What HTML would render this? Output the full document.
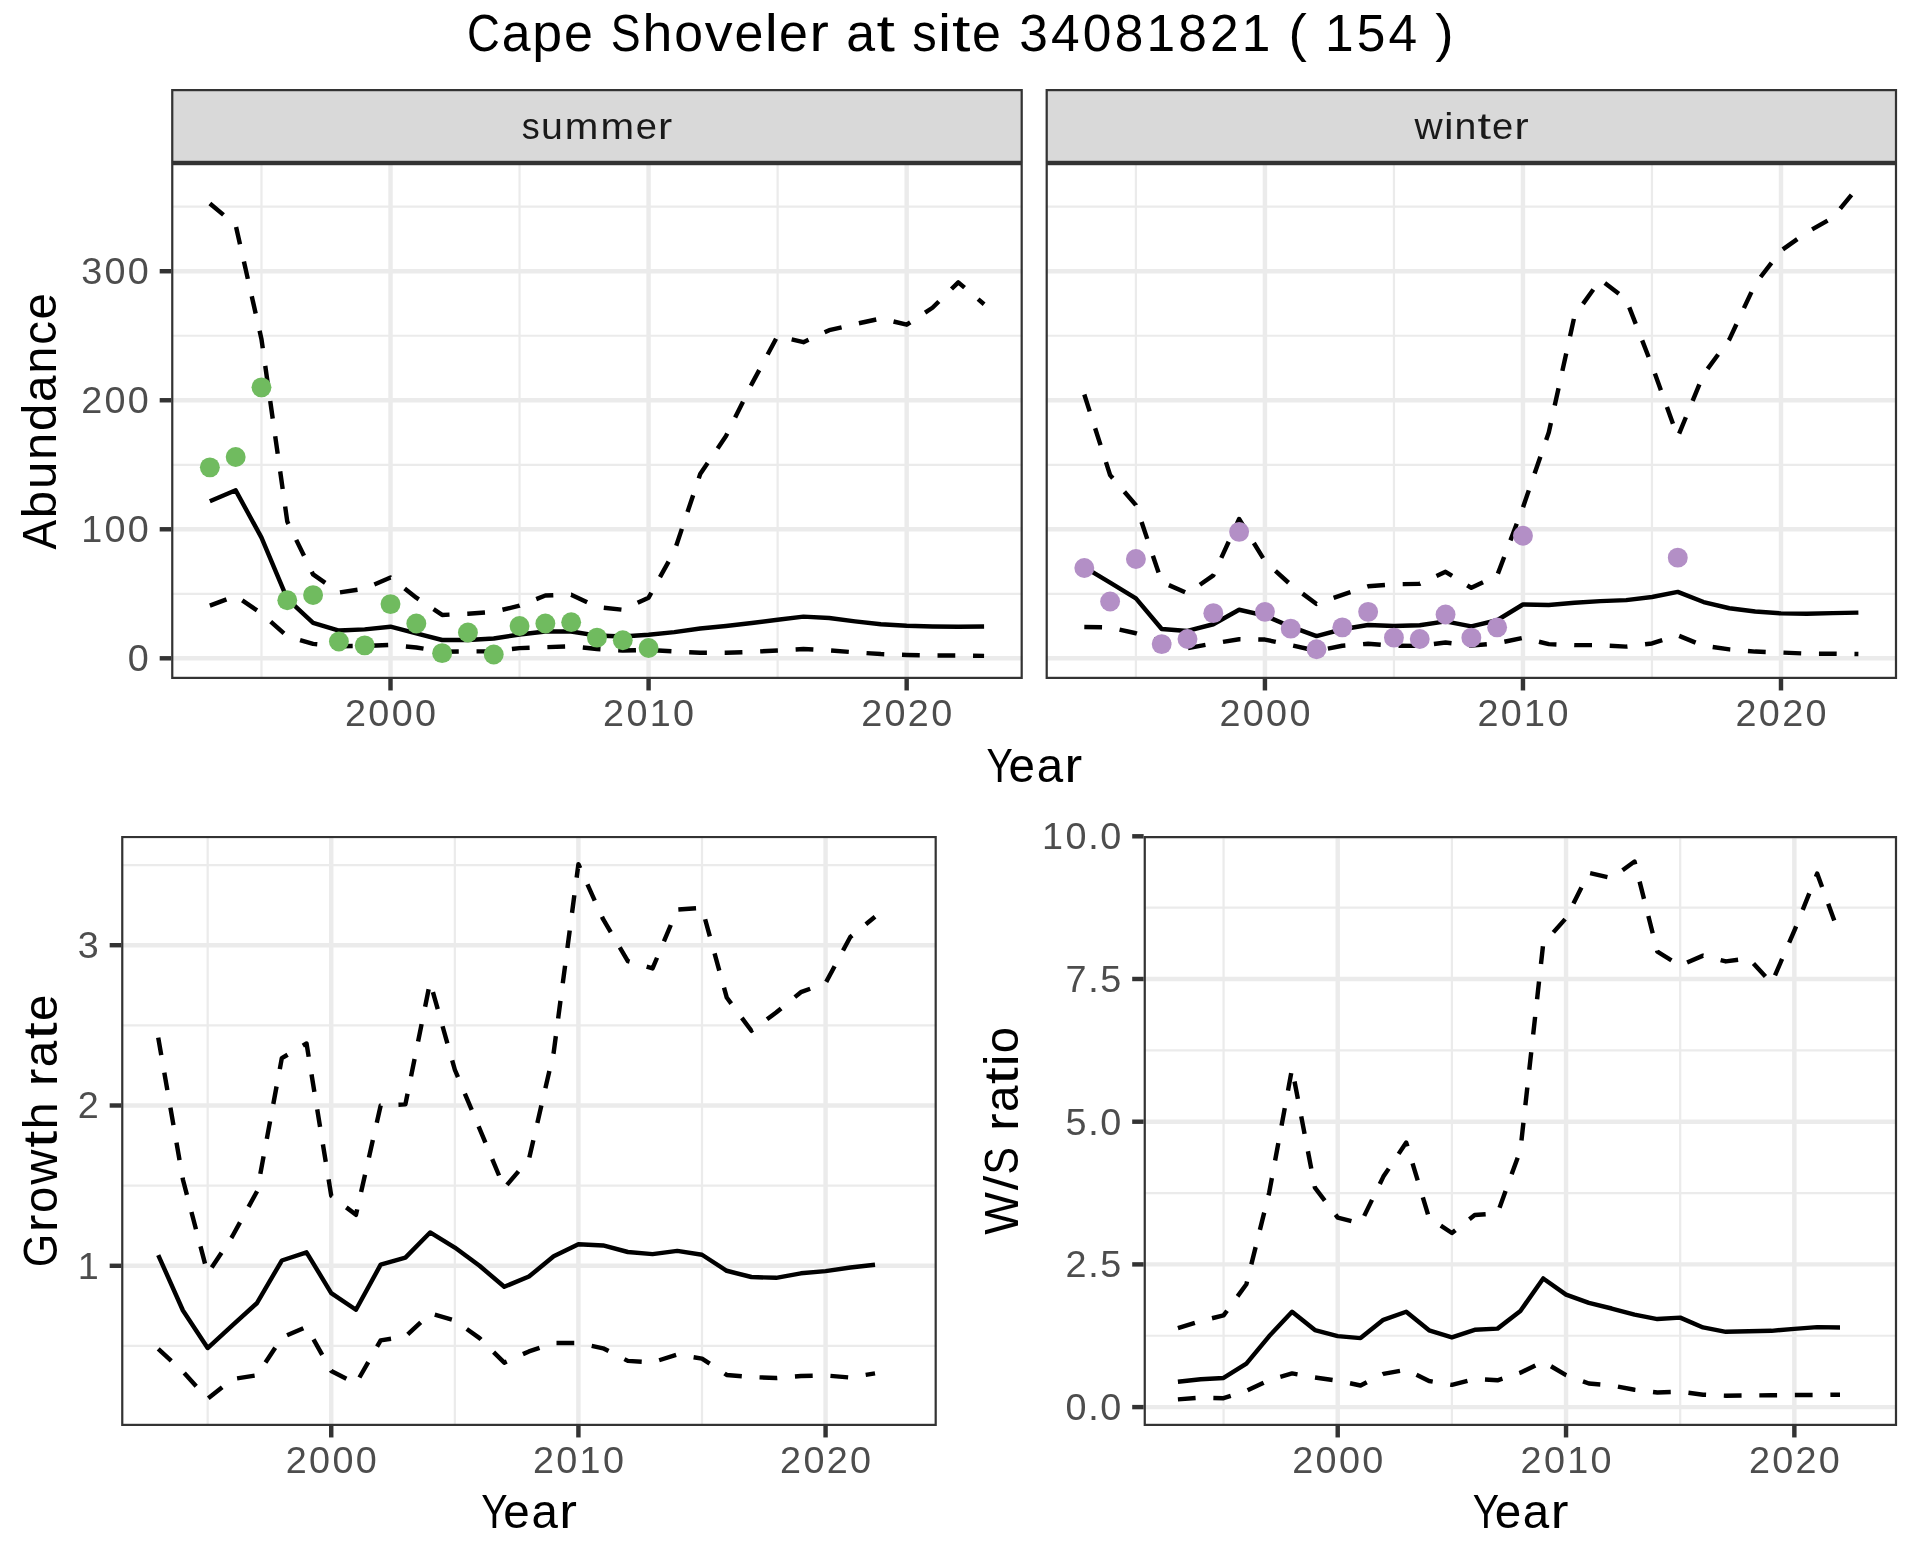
<!DOCTYPE html>
<html><head><meta charset="utf-8"><title>Cape Shoveler</title>
<style>html,body{margin:0;padding:0;background:#fff;}svg{display:block;will-change:transform;}</style></head><body>
<svg width="1920" height="1560" viewBox="0 0 1920 1560">
<rect x="0" y="0" width="1920" height="1560" fill="#FFFFFF"/>
<g transform="translate(960.00 50.80)" font-size="51.75" font-family="Liberation Sans, sans-serif" fill="#000000">
<text x="-493.10" y="0" textLength="32.81" lengthAdjust="spacingAndGlyphs">C</text>
<text x="-458.33" y="0" textLength="28.81" lengthAdjust="spacingAndGlyphs">a</text>
<text x="-427.65" y="0" textLength="29.84" lengthAdjust="spacingAndGlyphs">p</text>
<text x="-395.93" y="0" textLength="28.90" lengthAdjust="spacingAndGlyphs">e</text>
<text x="-349.25" y="0" textLength="29.84" lengthAdjust="spacingAndGlyphs">S</text>
<text x="-317.50" y="0" textLength="29.80" lengthAdjust="spacingAndGlyphs">h</text>
<text x="-285.83" y="0" textLength="28.76" lengthAdjust="spacingAndGlyphs">o</text>
<text x="-255.26" y="0" textLength="27.82" lengthAdjust="spacingAndGlyphs">v</text>
<text x="-225.63" y="0" textLength="28.90" lengthAdjust="spacingAndGlyphs">e</text>
<text x="-195.38" y="0" textLength="13.07" lengthAdjust="spacingAndGlyphs">l</text>
<text x="-180.98" y="0" textLength="28.90" lengthAdjust="spacingAndGlyphs">e</text>
<text x="-150.53" y="0" textLength="19.32" lengthAdjust="spacingAndGlyphs">r</text>
<text x="-113.78" y="0" textLength="28.81" lengthAdjust="spacingAndGlyphs">a</text>
<text x="-83.46" y="0" textLength="18.42" lengthAdjust="spacingAndGlyphs">t</text>
<text x="-47.77" y="0" textLength="24.49" lengthAdjust="spacingAndGlyphs">s</text>
<text x="-22.08" y="0" textLength="13.07" lengthAdjust="spacingAndGlyphs">i</text>
<text x="-8.01" y="0" textLength="18.42" lengthAdjust="spacingAndGlyphs">t</text>
<text x="11.92" y="0" textLength="28.90" lengthAdjust="spacingAndGlyphs">e</text>
<text x="59.24" y="0" textLength="28.62" lengthAdjust="spacingAndGlyphs">3</text>
<text x="91.04" y="0" textLength="28.62" lengthAdjust="spacingAndGlyphs">4</text>
<text x="122.84" y="0" textLength="28.62" lengthAdjust="spacingAndGlyphs">0</text>
<text x="154.64" y="0" textLength="28.62" lengthAdjust="spacingAndGlyphs">8</text>
<text x="186.44" y="0" textLength="28.62" lengthAdjust="spacingAndGlyphs">1</text>
<text x="218.24" y="0" textLength="28.62" lengthAdjust="spacingAndGlyphs">8</text>
<text x="250.04" y="0" textLength="28.62" lengthAdjust="spacingAndGlyphs">2</text>
<text x="281.84" y="0" textLength="28.62" lengthAdjust="spacingAndGlyphs">1</text>
<text x="328.53" y="0" textLength="18.33" lengthAdjust="spacingAndGlyphs">(</text>
<text x="364.94" y="0" textLength="28.62" lengthAdjust="spacingAndGlyphs">1</text>
<text x="396.74" y="0" textLength="28.62" lengthAdjust="spacingAndGlyphs">5</text>
<text x="428.54" y="0" textLength="28.62" lengthAdjust="spacingAndGlyphs">4</text>
<text x="475.23" y="0" textLength="18.33" lengthAdjust="spacingAndGlyphs">)</text>
</g>
<clipPath id="c1"><rect x="171.15" y="163.00" width="851.65" height="516.00"/></clipPath>
<g clip-path="url(#c1)">
<rect x="171.15" y="163.00" width="851.65" height="516.00" fill="#FFFFFF"/>
<line x1="171.15" x2="1022.80" y1="593.79" y2="593.79" stroke="#EBEBEB" stroke-width="2.22"/>
<line x1="171.15" x2="1022.80" y1="464.77" y2="464.77" stroke="#EBEBEB" stroke-width="2.22"/>
<line x1="171.15" x2="1022.80" y1="335.75" y2="335.75" stroke="#EBEBEB" stroke-width="2.22"/>
<line x1="171.15" x2="1022.80" y1="206.73" y2="206.73" stroke="#EBEBEB" stroke-width="2.22"/>
<line x1="261.48" x2="261.48" y1="163.00" y2="679.00" stroke="#EBEBEB" stroke-width="2.22"/>
<line x1="519.55" x2="519.55" y1="163.00" y2="679.00" stroke="#EBEBEB" stroke-width="2.22"/>
<line x1="777.63" x2="777.63" y1="163.00" y2="679.00" stroke="#EBEBEB" stroke-width="2.22"/>
<line x1="171.15" x2="1022.80" y1="658.30" y2="658.30" stroke="#EBEBEB" stroke-width="4.44"/>
<line x1="171.15" x2="1022.80" y1="529.28" y2="529.28" stroke="#EBEBEB" stroke-width="4.44"/>
<line x1="171.15" x2="1022.80" y1="400.26" y2="400.26" stroke="#EBEBEB" stroke-width="4.44"/>
<line x1="171.15" x2="1022.80" y1="271.24" y2="271.24" stroke="#EBEBEB" stroke-width="4.44"/>
<line x1="390.51" x2="390.51" y1="163.00" y2="679.00" stroke="#EBEBEB" stroke-width="4.44"/>
<line x1="648.59" x2="648.59" y1="163.00" y2="679.00" stroke="#EBEBEB" stroke-width="4.44"/>
<line x1="906.67" x2="906.67" y1="163.00" y2="679.00" stroke="#EBEBEB" stroke-width="4.44"/>
<polyline points="209.86,501.28 235.67,490.32 261.48,537.67 287.28,598.95 313.09,622.82 338.90,630.56 364.71,629.40 390.51,626.69 416.32,633.40 442.13,639.98 467.94,639.98 493.74,638.43 519.55,634.56 545.36,631.46 571.17,631.46 596.98,635.59 622.78,636.50 648.59,634.69 674.40,632.11 700.21,628.50 726.01,625.92 751.82,623.08 777.63,619.72 803.44,616.63 829.24,618.05 855.05,621.40 880.86,624.24 906.67,625.66 932.47,626.43 958.28,626.69 984.09,626.43" fill="none" stroke="#000000" stroke-width="4.44" stroke-linejoin="round" stroke-linecap="butt"/>
<polyline points="209.86,203.50 235.67,225.05 261.48,339.23 287.28,521.54 313.09,574.44 338.90,592.50 364.71,588.63 390.51,577.53 416.32,597.66 442.13,614.95 467.94,613.79 493.74,611.85 519.55,605.66 545.36,595.47 571.17,594.69 596.98,606.95 622.78,609.79 648.59,597.66 674.40,551.21 700.21,474.06 726.01,436.00 751.82,383.87 777.63,335.88 803.44,342.20 829.24,330.20 855.05,324.14 880.86,318.46 906.67,324.65 932.47,307.75 958.28,282.34 984.09,304.27" fill="none" stroke="#000000" stroke-width="4.44" stroke-linejoin="round" stroke-linecap="butt" stroke-dasharray="17.76 17.76"/>
<polyline points="209.86,605.66 235.67,595.98 261.48,613.40 287.28,636.37 313.09,643.85 338.90,646.30 364.71,645.91 390.51,645.01 416.32,647.46 442.13,651.72 467.94,651.46 493.74,651.20 519.55,648.11 545.36,647.20 571.17,646.30 596.98,649.01 622.78,650.56 648.59,649.91 674.40,651.46 700.21,652.75 726.01,652.75 751.82,651.85 777.63,650.43 803.44,649.01 829.24,650.43 855.05,652.37 880.86,654.04 906.67,654.95 932.47,655.46 958.28,655.46 984.09,655.85" fill="none" stroke="#000000" stroke-width="4.44" stroke-linejoin="round" stroke-linecap="butt" stroke-dasharray="17.76 17.76"/>
<circle cx="209.86" cy="467.35" r="9.95" fill="#70BB5F"/>
<circle cx="235.67" cy="457.03" r="9.95" fill="#70BB5F"/>
<circle cx="261.48" cy="387.36" r="9.95" fill="#70BB5F"/>
<circle cx="287.28" cy="600.24" r="9.95" fill="#70BB5F"/>
<circle cx="313.09" cy="595.08" r="9.95" fill="#70BB5F"/>
<circle cx="338.90" cy="641.53" r="9.95" fill="#70BB5F"/>
<circle cx="364.71" cy="645.40" r="9.95" fill="#70BB5F"/>
<circle cx="390.51" cy="604.11" r="9.95" fill="#70BB5F"/>
<circle cx="416.32" cy="623.46" r="9.95" fill="#70BB5F"/>
<circle cx="442.13" cy="653.14" r="9.95" fill="#70BB5F"/>
<circle cx="467.94" cy="632.50" r="9.95" fill="#70BB5F"/>
<circle cx="493.74" cy="654.43" r="9.95" fill="#70BB5F"/>
<circle cx="519.55" cy="626.04" r="9.95" fill="#70BB5F"/>
<circle cx="545.36" cy="623.46" r="9.95" fill="#70BB5F"/>
<circle cx="571.17" cy="622.17" r="9.95" fill="#70BB5F"/>
<circle cx="596.98" cy="637.66" r="9.95" fill="#70BB5F"/>
<circle cx="622.78" cy="640.24" r="9.95" fill="#70BB5F"/>
<circle cx="648.59" cy="647.98" r="9.95" fill="#70BB5F"/>
<rect x="171.15" y="163.00" width="851.65" height="516.00" fill="none" stroke="#333333" stroke-width="4.44"/>
</g>
<clipPath id="c2"><rect x="171.15" y="89" width="851.65" height="74"/></clipPath>
<rect x="171.15" y="89" width="851.65" height="74" fill="#D9D9D9" stroke="#333333" stroke-width="4.44" clip-path="url(#c2)"/>
<g transform="translate(596.98 139.00)" font-size="37.11" font-family="Liberation Sans, sans-serif" fill="#1A1A1A">
<text x="-75.13" y="0" textLength="17.96" lengthAdjust="spacingAndGlyphs">s</text>
<text x="-55.90" y="0" textLength="21.85" lengthAdjust="spacingAndGlyphs">u</text>
<text x="-32.28" y="0" textLength="33.57" lengthAdjust="spacingAndGlyphs">m</text>
<text x="3.44" y="0" textLength="33.57" lengthAdjust="spacingAndGlyphs">m</text>
<text x="38.76" y="0" textLength="21.20" lengthAdjust="spacingAndGlyphs">e</text>
<text x="61.09" y="0" textLength="14.17" lengthAdjust="spacingAndGlyphs">r</text>
</g>
<line x1="390.51" x2="390.51" y1="679.00" y2="690.46" stroke="#333333" stroke-width="4.44"/>
<line x1="648.59" x2="648.59" y1="679.00" y2="690.46" stroke="#333333" stroke-width="4.44"/>
<line x1="906.67" x2="906.67" y1="679.00" y2="690.46" stroke="#333333" stroke-width="4.44"/>
<g transform="translate(390.51 725.80)" font-size="37.40" font-family="Liberation Sans, sans-serif" fill="#4D4D4D">
<text x="-45.48" y="0" textLength="20.99" lengthAdjust="spacingAndGlyphs">2</text>
<text x="-22.16" y="0" textLength="20.99" lengthAdjust="spacingAndGlyphs">0</text>
<text x="1.17" y="0" textLength="20.99" lengthAdjust="spacingAndGlyphs">0</text>
<text x="24.49" y="0" textLength="20.99" lengthAdjust="spacingAndGlyphs">0</text>
</g>
<g transform="translate(648.59 725.80)" font-size="37.40" font-family="Liberation Sans, sans-serif" fill="#4D4D4D">
<text x="-45.48" y="0" textLength="20.99" lengthAdjust="spacingAndGlyphs">2</text>
<text x="-22.16" y="0" textLength="20.99" lengthAdjust="spacingAndGlyphs">0</text>
<text x="1.17" y="0" textLength="20.99" lengthAdjust="spacingAndGlyphs">1</text>
<text x="24.49" y="0" textLength="20.99" lengthAdjust="spacingAndGlyphs">0</text>
</g>
<g transform="translate(906.67 725.80)" font-size="37.40" font-family="Liberation Sans, sans-serif" fill="#4D4D4D">
<text x="-45.48" y="0" textLength="20.99" lengthAdjust="spacingAndGlyphs">2</text>
<text x="-22.16" y="0" textLength="20.99" lengthAdjust="spacingAndGlyphs">0</text>
<text x="1.17" y="0" textLength="20.99" lengthAdjust="spacingAndGlyphs">2</text>
<text x="24.49" y="0" textLength="20.99" lengthAdjust="spacingAndGlyphs">0</text>
</g>
<clipPath id="c3"><rect x="1045.60" y="163.00" width="851.50" height="516.00"/></clipPath>
<g clip-path="url(#c3)">
<rect x="1045.60" y="163.00" width="851.50" height="516.00" fill="#FFFFFF"/>
<line x1="1045.60" x2="1897.10" y1="593.79" y2="593.79" stroke="#EBEBEB" stroke-width="2.22"/>
<line x1="1045.60" x2="1897.10" y1="464.77" y2="464.77" stroke="#EBEBEB" stroke-width="2.22"/>
<line x1="1045.60" x2="1897.10" y1="335.75" y2="335.75" stroke="#EBEBEB" stroke-width="2.22"/>
<line x1="1045.60" x2="1897.10" y1="206.73" y2="206.73" stroke="#EBEBEB" stroke-width="2.22"/>
<line x1="1135.91" x2="1135.91" y1="163.00" y2="679.00" stroke="#EBEBEB" stroke-width="2.22"/>
<line x1="1393.94" x2="1393.94" y1="163.00" y2="679.00" stroke="#EBEBEB" stroke-width="2.22"/>
<line x1="1651.97" x2="1651.97" y1="163.00" y2="679.00" stroke="#EBEBEB" stroke-width="2.22"/>
<line x1="1045.60" x2="1897.10" y1="658.30" y2="658.30" stroke="#EBEBEB" stroke-width="4.44"/>
<line x1="1045.60" x2="1897.10" y1="529.28" y2="529.28" stroke="#EBEBEB" stroke-width="4.44"/>
<line x1="1045.60" x2="1897.10" y1="400.26" y2="400.26" stroke="#EBEBEB" stroke-width="4.44"/>
<line x1="1045.60" x2="1897.10" y1="271.24" y2="271.24" stroke="#EBEBEB" stroke-width="4.44"/>
<line x1="1264.93" x2="1264.93" y1="163.00" y2="679.00" stroke="#EBEBEB" stroke-width="4.44"/>
<line x1="1522.96" x2="1522.96" y1="163.00" y2="679.00" stroke="#EBEBEB" stroke-width="4.44"/>
<line x1="1780.99" x2="1780.99" y1="163.00" y2="679.00" stroke="#EBEBEB" stroke-width="4.44"/>
<polyline points="1084.30,567.21 1110.11,582.69 1135.91,598.31 1161.71,629.01 1187.52,630.95 1213.32,624.24 1239.12,609.79 1264.93,615.59 1290.73,626.69 1316.53,636.11 1342.33,629.27 1368.14,625.01 1393.94,626.04 1419.74,625.27 1445.55,621.40 1471.35,626.43 1497.15,620.24 1522.96,604.50 1548.76,605.01 1574.56,602.69 1600.37,601.14 1626.17,600.11 1651.97,597.02 1677.77,591.85 1703.58,602.05 1729.38,608.24 1755.18,611.47 1780.99,613.40 1806.79,613.79 1832.59,613.14 1858.40,612.63" fill="none" stroke="#000000" stroke-width="4.44" stroke-linejoin="round" stroke-linecap="butt"/>
<polyline points="1084.30,394.45 1110.11,475.09 1135.91,505.15 1161.71,581.92 1187.52,593.40 1213.32,575.34 1239.12,518.96 1264.93,561.15 1290.73,584.76 1316.53,603.98 1342.33,594.82 1368.14,586.31 1393.94,584.24 1419.74,583.86 1445.55,571.86 1471.35,587.86 1497.15,575.60 1522.96,507.35 1548.76,432.51 1574.56,315.75 1600.37,279.50 1626.17,299.37 1651.97,365.55 1677.77,437.03 1703.58,374.20 1729.38,339.36 1755.18,284.01 1780.99,250.73 1806.79,232.40 1832.59,217.83 1858.40,186.47" fill="none" stroke="#000000" stroke-width="4.44" stroke-linejoin="round" stroke-linecap="butt" stroke-dasharray="17.76 17.76"/>
<polyline points="1084.30,627.08 1110.11,627.46 1135.91,633.27 1161.71,642.17 1187.52,648.24 1213.32,643.46 1239.12,639.21 1264.93,639.59 1290.73,645.01 1316.53,650.82 1342.33,645.79 1368.14,643.72 1393.94,645.66 1419.74,645.91 1445.55,642.56 1471.35,645.66 1497.15,643.33 1522.96,637.79 1548.76,644.11 1574.56,645.14 1600.37,645.14 1626.17,646.62 1651.97,643.46 1677.77,635.33 1703.58,645.79 1729.38,649.40 1755.18,651.59 1780.99,652.49 1806.79,653.66 1832.59,653.66 1858.40,654.04" fill="none" stroke="#000000" stroke-width="4.44" stroke-linejoin="round" stroke-linecap="butt" stroke-dasharray="17.76 17.76"/>
<circle cx="1084.30" cy="567.99" r="9.95" fill="#B38FC6"/>
<circle cx="1110.11" cy="601.53" r="9.95" fill="#B38FC6"/>
<circle cx="1135.91" cy="558.95" r="9.95" fill="#B38FC6"/>
<circle cx="1161.71" cy="644.11" r="9.95" fill="#B38FC6"/>
<circle cx="1187.52" cy="638.95" r="9.95" fill="#B38FC6"/>
<circle cx="1213.32" cy="613.14" r="9.95" fill="#B38FC6"/>
<circle cx="1239.12" cy="531.86" r="9.95" fill="#B38FC6"/>
<circle cx="1264.93" cy="611.85" r="9.95" fill="#B38FC6"/>
<circle cx="1290.73" cy="628.63" r="9.95" fill="#B38FC6"/>
<circle cx="1316.53" cy="649.27" r="9.95" fill="#B38FC6"/>
<circle cx="1342.33" cy="627.34" r="9.95" fill="#B38FC6"/>
<circle cx="1368.14" cy="611.85" r="9.95" fill="#B38FC6"/>
<circle cx="1393.94" cy="637.66" r="9.95" fill="#B38FC6"/>
<circle cx="1419.74" cy="638.95" r="9.95" fill="#B38FC6"/>
<circle cx="1445.55" cy="614.43" r="9.95" fill="#B38FC6"/>
<circle cx="1471.35" cy="637.66" r="9.95" fill="#B38FC6"/>
<circle cx="1497.15" cy="627.34" r="9.95" fill="#B38FC6"/>
<circle cx="1522.96" cy="535.73" r="9.95" fill="#B38FC6"/>
<circle cx="1677.77" cy="557.66" r="9.95" fill="#B38FC6"/>
<rect x="1045.60" y="163.00" width="851.50" height="516.00" fill="none" stroke="#333333" stroke-width="4.44"/>
</g>
<clipPath id="c4"><rect x="1045.60" y="89" width="851.50" height="74"/></clipPath>
<rect x="1045.60" y="89" width="851.50" height="74" fill="#D9D9D9" stroke="#333333" stroke-width="4.44" clip-path="url(#c4)"/>
<g transform="translate(1471.35 139.00)" font-size="37.11" font-family="Liberation Sans, sans-serif" fill="#1A1A1A">
<text x="-56.82" y="0" textLength="28.20" lengthAdjust="spacingAndGlyphs">w</text>
<text x="-27.42" y="0" textLength="9.58" lengthAdjust="spacingAndGlyphs">i</text>
<text x="-16.83" y="0" textLength="21.85" lengthAdjust="spacingAndGlyphs">n</text>
<text x="6.15" y="0" textLength="13.51" lengthAdjust="spacingAndGlyphs">t</text>
<text x="20.77" y="0" textLength="21.20" lengthAdjust="spacingAndGlyphs">e</text>
<text x="43.10" y="0" textLength="14.17" lengthAdjust="spacingAndGlyphs">r</text>
</g>
<line x1="1264.93" x2="1264.93" y1="679.00" y2="690.46" stroke="#333333" stroke-width="4.44"/>
<line x1="1522.96" x2="1522.96" y1="679.00" y2="690.46" stroke="#333333" stroke-width="4.44"/>
<line x1="1780.99" x2="1780.99" y1="679.00" y2="690.46" stroke="#333333" stroke-width="4.44"/>
<g transform="translate(1264.93 725.80)" font-size="37.40" font-family="Liberation Sans, sans-serif" fill="#4D4D4D">
<text x="-45.48" y="0" textLength="20.99" lengthAdjust="spacingAndGlyphs">2</text>
<text x="-22.16" y="0" textLength="20.99" lengthAdjust="spacingAndGlyphs">0</text>
<text x="1.17" y="0" textLength="20.99" lengthAdjust="spacingAndGlyphs">0</text>
<text x="24.49" y="0" textLength="20.99" lengthAdjust="spacingAndGlyphs">0</text>
</g>
<g transform="translate(1522.96 725.80)" font-size="37.40" font-family="Liberation Sans, sans-serif" fill="#4D4D4D">
<text x="-45.48" y="0" textLength="20.99" lengthAdjust="spacingAndGlyphs">2</text>
<text x="-22.16" y="0" textLength="20.99" lengthAdjust="spacingAndGlyphs">0</text>
<text x="1.17" y="0" textLength="20.99" lengthAdjust="spacingAndGlyphs">1</text>
<text x="24.49" y="0" textLength="20.99" lengthAdjust="spacingAndGlyphs">0</text>
</g>
<g transform="translate(1780.99 725.80)" font-size="37.40" font-family="Liberation Sans, sans-serif" fill="#4D4D4D">
<text x="-45.48" y="0" textLength="20.99" lengthAdjust="spacingAndGlyphs">2</text>
<text x="-22.16" y="0" textLength="20.99" lengthAdjust="spacingAndGlyphs">0</text>
<text x="1.17" y="0" textLength="20.99" lengthAdjust="spacingAndGlyphs">2</text>
<text x="24.49" y="0" textLength="20.99" lengthAdjust="spacingAndGlyphs">0</text>
</g>
<line x1="159.69" x2="171.15" y1="658.30" y2="658.30" stroke="#333333" stroke-width="4.44"/>
<line x1="159.69" x2="171.15" y1="529.28" y2="529.28" stroke="#333333" stroke-width="4.44"/>
<line x1="159.69" x2="171.15" y1="400.26" y2="400.26" stroke="#333333" stroke-width="4.44"/>
<line x1="159.69" x2="171.15" y1="271.24" y2="271.24" stroke="#333333" stroke-width="4.44"/>
<g transform="translate(150.00 671.20)" font-size="37.40" font-family="Liberation Sans, sans-serif" fill="#4D4D4D">
<text x="-22.16" y="0" textLength="20.99" lengthAdjust="spacingAndGlyphs">0</text>
</g>
<g transform="translate(150.00 542.18)" font-size="37.40" font-family="Liberation Sans, sans-serif" fill="#4D4D4D">
<text x="-68.80" y="0" textLength="20.99" lengthAdjust="spacingAndGlyphs">1</text>
<text x="-45.48" y="0" textLength="20.99" lengthAdjust="spacingAndGlyphs">0</text>
<text x="-22.16" y="0" textLength="20.99" lengthAdjust="spacingAndGlyphs">0</text>
</g>
<g transform="translate(150.00 413.16)" font-size="37.40" font-family="Liberation Sans, sans-serif" fill="#4D4D4D">
<text x="-68.80" y="0" textLength="20.99" lengthAdjust="spacingAndGlyphs">2</text>
<text x="-45.48" y="0" textLength="20.99" lengthAdjust="spacingAndGlyphs">0</text>
<text x="-22.16" y="0" textLength="20.99" lengthAdjust="spacingAndGlyphs">0</text>
</g>
<g transform="translate(150.00 284.14)" font-size="37.40" font-family="Liberation Sans, sans-serif" fill="#4D4D4D">
<text x="-68.80" y="0" textLength="20.99" lengthAdjust="spacingAndGlyphs">3</text>
<text x="-45.48" y="0" textLength="20.99" lengthAdjust="spacingAndGlyphs">0</text>
<text x="-22.16" y="0" textLength="20.99" lengthAdjust="spacingAndGlyphs">0</text>
</g>
<g transform="translate(55.80 421.30) rotate(-90)" font-size="47.43" font-family="Liberation Sans, sans-serif" fill="#000000">
<text x="-128.16" y="0" textLength="29.47" lengthAdjust="spacingAndGlyphs">A</text>
<text x="-96.88" y="0" textLength="27.36" lengthAdjust="spacingAndGlyphs">b</text>
<text x="-67.78" y="0" textLength="27.31" lengthAdjust="spacingAndGlyphs">u</text>
<text x="-38.73" y="0" textLength="27.31" lengthAdjust="spacingAndGlyphs">n</text>
<text x="-9.67" y="0" textLength="27.36" lengthAdjust="spacingAndGlyphs">d</text>
<text x="19.40" y="0" textLength="26.41" lengthAdjust="spacingAndGlyphs">a</text>
<text x="47.53" y="0" textLength="27.31" lengthAdjust="spacingAndGlyphs">n</text>
<text x="76.47" y="0" textLength="23.69" lengthAdjust="spacingAndGlyphs">c</text>
<text x="101.76" y="0" textLength="26.49" lengthAdjust="spacingAndGlyphs">e</text>
</g>
<g transform="translate(1034.20 781.70)" font-size="47.43" font-family="Liberation Sans, sans-serif" fill="#000000">
<text x="-47.72" y="0" textLength="26.32" lengthAdjust="spacingAndGlyphs">Y</text>
<text x="-25.71" y="0" textLength="26.49" lengthAdjust="spacingAndGlyphs">e</text>
<text x="2.47" y="0" textLength="26.41" lengthAdjust="spacingAndGlyphs">a</text>
<text x="30.29" y="0" textLength="17.71" lengthAdjust="spacingAndGlyphs">r</text>
</g>
<clipPath id="c5"><rect x="121.15" y="835.90" width="815.65" height="590.10"/></clipPath>
<g clip-path="url(#c5)">
<rect x="121.15" y="835.90" width="815.65" height="590.10" fill="#FFFFFF"/>
<line x1="121.15" x2="936.80" y1="1345.95" y2="1345.95" stroke="#EBEBEB" stroke-width="2.22"/>
<line x1="121.15" x2="936.80" y1="1185.65" y2="1185.65" stroke="#EBEBEB" stroke-width="2.22"/>
<line x1="121.15" x2="936.80" y1="1025.35" y2="1025.35" stroke="#EBEBEB" stroke-width="2.22"/>
<line x1="121.15" x2="936.80" y1="865.05" y2="865.05" stroke="#EBEBEB" stroke-width="2.22"/>
<line x1="207.66" x2="207.66" y1="835.90" y2="1426.00" stroke="#EBEBEB" stroke-width="2.22"/>
<line x1="454.83" x2="454.83" y1="835.90" y2="1426.00" stroke="#EBEBEB" stroke-width="2.22"/>
<line x1="701.99" x2="701.99" y1="835.90" y2="1426.00" stroke="#EBEBEB" stroke-width="2.22"/>
<line x1="121.15" x2="936.80" y1="1265.80" y2="1265.80" stroke="#EBEBEB" stroke-width="4.44"/>
<line x1="121.15" x2="936.80" y1="1105.50" y2="1105.50" stroke="#EBEBEB" stroke-width="4.44"/>
<line x1="121.15" x2="936.80" y1="945.20" y2="945.20" stroke="#EBEBEB" stroke-width="4.44"/>
<line x1="331.24" x2="331.24" y1="835.90" y2="1426.00" stroke="#EBEBEB" stroke-width="4.44"/>
<line x1="578.41" x2="578.41" y1="835.90" y2="1426.00" stroke="#EBEBEB" stroke-width="4.44"/>
<line x1="825.57" x2="825.57" y1="835.90" y2="1426.00" stroke="#EBEBEB" stroke-width="4.44"/>
<polyline points="158.22,1255.06 182.94,1310.52 207.66,1348.03 232.38,1325.27 257.09,1302.99 281.81,1260.51 306.52,1252.33 331.24,1293.05 355.96,1309.72 380.67,1264.68 405.39,1257.62 430.11,1232.46 454.83,1247.53 479.54,1265.80 504.26,1286.80 528.98,1276.54 553.69,1256.34 578.41,1244.32 603.12,1245.44 627.84,1252.01 652.56,1254.10 677.27,1250.89 701.99,1254.74 726.71,1270.77 751.42,1277.02 776.14,1277.82 800.86,1273.33 825.57,1271.09 850.29,1267.56 875.01,1264.68" fill="none" stroke="#000000" stroke-width="4.44" stroke-linejoin="round" stroke-linecap="butt"/>
<polyline points="158.22,1037.69 182.94,1179.72 207.66,1273.65 232.38,1236.30 257.09,1191.26 281.81,1058.21 306.52,1043.46 331.24,1195.75 355.96,1214.82 380.67,1105.50 405.39,1104.38 430.11,982.07 454.83,1069.75 479.54,1128.58 504.26,1188.05 528.98,1159.04 553.69,1052.44 578.41,864.25 603.12,919.23 627.84,961.23 652.56,968.44 677.27,909.61 701.99,907.85 726.71,997.46 751.42,1030.80 776.14,1012.53 800.86,992.17 825.57,983.03 850.29,937.02 875.01,916.67" fill="none" stroke="#000000" stroke-width="4.44" stroke-linejoin="round" stroke-linecap="butt" stroke-dasharray="17.76 17.76"/>
<polyline points="158.22,1348.84 182.94,1371.60 207.66,1398.69 232.38,1379.13 257.09,1375.28 281.81,1337.61 306.52,1326.87 331.24,1370.96 355.96,1383.62 380.67,1340.34 405.39,1336.65 430.11,1313.41 454.83,1320.46 479.54,1338.10 504.26,1362.62 528.98,1351.40 553.69,1343.06 578.41,1343.06 603.12,1348.35 627.84,1360.86 652.56,1362.30 677.27,1354.61 701.99,1358.61 726.71,1374.96 751.42,1377.05 776.14,1378.01 800.86,1375.93 825.57,1375.45 850.29,1377.53 875.01,1373.36" fill="none" stroke="#000000" stroke-width="4.44" stroke-linejoin="round" stroke-linecap="butt" stroke-dasharray="17.76 17.76"/>
<rect x="121.15" y="835.90" width="815.65" height="590.10" fill="none" stroke="#333333" stroke-width="4.44"/>
</g>
<line x1="331.24" x2="331.24" y1="1426.00" y2="1437.46" stroke="#333333" stroke-width="4.44"/>
<line x1="578.41" x2="578.41" y1="1426.00" y2="1437.46" stroke="#333333" stroke-width="4.44"/>
<line x1="825.57" x2="825.57" y1="1426.00" y2="1437.46" stroke="#333333" stroke-width="4.44"/>
<line x1="109.69" x2="121.15" y1="1265.80" y2="1265.80" stroke="#333333" stroke-width="4.44"/>
<line x1="109.69" x2="121.15" y1="1105.50" y2="1105.50" stroke="#333333" stroke-width="4.44"/>
<line x1="109.69" x2="121.15" y1="945.20" y2="945.20" stroke="#333333" stroke-width="4.44"/>
<g transform="translate(331.24 1473.10)" font-size="37.40" font-family="Liberation Sans, sans-serif" fill="#4D4D4D">
<text x="-45.48" y="0" textLength="20.99" lengthAdjust="spacingAndGlyphs">2</text>
<text x="-22.16" y="0" textLength="20.99" lengthAdjust="spacingAndGlyphs">0</text>
<text x="1.17" y="0" textLength="20.99" lengthAdjust="spacingAndGlyphs">0</text>
<text x="24.49" y="0" textLength="20.99" lengthAdjust="spacingAndGlyphs">0</text>
</g>
<g transform="translate(578.41 1473.10)" font-size="37.40" font-family="Liberation Sans, sans-serif" fill="#4D4D4D">
<text x="-45.48" y="0" textLength="20.99" lengthAdjust="spacingAndGlyphs">2</text>
<text x="-22.16" y="0" textLength="20.99" lengthAdjust="spacingAndGlyphs">0</text>
<text x="1.17" y="0" textLength="20.99" lengthAdjust="spacingAndGlyphs">1</text>
<text x="24.49" y="0" textLength="20.99" lengthAdjust="spacingAndGlyphs">0</text>
</g>
<g transform="translate(825.57 1473.10)" font-size="37.40" font-family="Liberation Sans, sans-serif" fill="#4D4D4D">
<text x="-45.48" y="0" textLength="20.99" lengthAdjust="spacingAndGlyphs">2</text>
<text x="-22.16" y="0" textLength="20.99" lengthAdjust="spacingAndGlyphs">0</text>
<text x="1.17" y="0" textLength="20.99" lengthAdjust="spacingAndGlyphs">2</text>
<text x="24.49" y="0" textLength="20.99" lengthAdjust="spacingAndGlyphs">0</text>
</g>
<g transform="translate(100.00 1278.70)" font-size="37.40" font-family="Liberation Sans, sans-serif" fill="#4D4D4D">
<text x="-22.16" y="0" textLength="20.99" lengthAdjust="spacingAndGlyphs">1</text>
</g>
<g transform="translate(100.00 1118.40)" font-size="37.40" font-family="Liberation Sans, sans-serif" fill="#4D4D4D">
<text x="-22.16" y="0" textLength="20.99" lengthAdjust="spacingAndGlyphs">2</text>
</g>
<g transform="translate(100.00 958.10)" font-size="37.40" font-family="Liberation Sans, sans-serif" fill="#4D4D4D">
<text x="-22.16" y="0" textLength="20.99" lengthAdjust="spacingAndGlyphs">3</text>
</g>
<g transform="translate(56.50 1131.00) rotate(-90)" font-size="47.43" font-family="Liberation Sans, sans-serif" fill="#000000">
<text x="-136.22" y="0" textLength="33.39" lengthAdjust="spacingAndGlyphs">G</text>
<text x="-101.20" y="0" textLength="17.71" lengthAdjust="spacingAndGlyphs">r</text>
<text x="-82.09" y="0" textLength="26.37" lengthAdjust="spacingAndGlyphs">o</text>
<text x="-53.76" y="0" textLength="35.24" lengthAdjust="spacingAndGlyphs">w</text>
<text x="-16.85" y="0" textLength="16.89" lengthAdjust="spacingAndGlyphs">t</text>
<text x="1.44" y="0" textLength="27.31" lengthAdjust="spacingAndGlyphs">h</text>
<text x="44.77" y="0" textLength="17.71" lengthAdjust="spacingAndGlyphs">r</text>
<text x="63.88" y="0" textLength="26.41" lengthAdjust="spacingAndGlyphs">a</text>
<text x="91.67" y="0" textLength="16.89" lengthAdjust="spacingAndGlyphs">t</text>
<text x="109.94" y="0" textLength="26.49" lengthAdjust="spacingAndGlyphs">e</text>
</g>
<g transform="translate(529.00 1528.30)" font-size="47.43" font-family="Liberation Sans, sans-serif" fill="#000000">
<text x="-47.72" y="0" textLength="26.32" lengthAdjust="spacingAndGlyphs">Y</text>
<text x="-25.71" y="0" textLength="26.49" lengthAdjust="spacingAndGlyphs">e</text>
<text x="2.47" y="0" textLength="26.41" lengthAdjust="spacingAndGlyphs">a</text>
<text x="30.29" y="0" textLength="17.71" lengthAdjust="spacingAndGlyphs">r</text>
</g>
<clipPath id="c6"><rect x="1143.65" y="836.00" width="753.45" height="590.00"/></clipPath>
<g clip-path="url(#c6)">
<rect x="1143.65" y="836.00" width="753.45" height="590.00" fill="#FFFFFF"/>
<line x1="1143.65" x2="1897.10" y1="1335.75" y2="1335.75" stroke="#EBEBEB" stroke-width="2.22"/>
<line x1="1143.65" x2="1897.10" y1="1193.05" y2="1193.05" stroke="#EBEBEB" stroke-width="2.22"/>
<line x1="1143.65" x2="1897.10" y1="1050.35" y2="1050.35" stroke="#EBEBEB" stroke-width="2.22"/>
<line x1="1143.65" x2="1897.10" y1="907.65" y2="907.65" stroke="#EBEBEB" stroke-width="2.22"/>
<line x1="1223.56" x2="1223.56" y1="836.00" y2="1426.00" stroke="#EBEBEB" stroke-width="2.22"/>
<line x1="1451.88" x2="1451.88" y1="836.00" y2="1426.00" stroke="#EBEBEB" stroke-width="2.22"/>
<line x1="1680.20" x2="1680.20" y1="836.00" y2="1426.00" stroke="#EBEBEB" stroke-width="2.22"/>
<line x1="1143.65" x2="1897.10" y1="1407.10" y2="1407.10" stroke="#EBEBEB" stroke-width="4.44"/>
<line x1="1143.65" x2="1897.10" y1="1264.40" y2="1264.40" stroke="#EBEBEB" stroke-width="4.44"/>
<line x1="1143.65" x2="1897.10" y1="1121.70" y2="1121.70" stroke="#EBEBEB" stroke-width="4.44"/>
<line x1="1143.65" x2="1897.10" y1="979.00" y2="979.00" stroke="#EBEBEB" stroke-width="4.44"/>
<line x1="1143.65" x2="1897.10" y1="836.30" y2="836.30" stroke="#EBEBEB" stroke-width="4.44"/>
<line x1="1337.72" x2="1337.72" y1="836.00" y2="1426.00" stroke="#EBEBEB" stroke-width="4.44"/>
<line x1="1566.04" x2="1566.04" y1="836.00" y2="1426.00" stroke="#EBEBEB" stroke-width="4.44"/>
<line x1="1794.36" x2="1794.36" y1="836.00" y2="1426.00" stroke="#EBEBEB" stroke-width="4.44"/>
<polyline points="1177.90,1381.70 1200.73,1379.19 1223.56,1377.99 1246.39,1363.61 1269.23,1336.09 1292.06,1311.78 1314.89,1330.04 1337.72,1336.09 1360.55,1338.09 1383.38,1319.82 1406.22,1311.78 1429.05,1330.33 1451.88,1337.41 1474.71,1329.81 1497.54,1328.62 1520.38,1310.98 1543.21,1278.44 1566.04,1294.60 1588.87,1302.93 1611.70,1308.52 1634.53,1314.69 1657.37,1319.08 1680.20,1317.60 1703.03,1327.42 1725.86,1331.81 1748.69,1331.30 1771.53,1330.84 1794.36,1328.84 1817.19,1327.13 1840.02,1327.42" fill="none" stroke="#000000" stroke-width="4.44" stroke-linejoin="round" stroke-linecap="butt"/>
<polyline points="1177.90,1328.10 1200.73,1321.02 1223.56,1315.43 1246.39,1284.26 1269.23,1192.42 1292.06,1068.62 1314.89,1187.57 1337.72,1217.54 1360.55,1223.36 1383.38,1176.61 1406.22,1142.53 1429.05,1217.99 1451.88,1233.01 1474.71,1215.08 1497.54,1213.26 1520.38,1150.18 1543.21,943.78 1566.04,918.10 1588.87,872.89 1611.70,878.08 1634.53,861.53 1657.37,951.72 1680.20,965.59 1703.03,955.65 1725.86,961.42 1748.69,958.28 1771.53,983.28 1794.36,930.71 1817.19,873.63 1840.02,936.19" fill="none" stroke="#000000" stroke-width="4.44" stroke-linejoin="round" stroke-linecap="butt" stroke-dasharray="17.76 17.76"/>
<polyline points="1177.90,1399.39 1200.73,1397.68 1223.56,1398.20 1246.39,1390.89 1269.23,1379.99 1292.06,1373.42 1314.89,1377.48 1337.72,1380.67 1360.55,1385.52 1383.38,1373.88 1406.22,1369.71 1429.05,1381.01 1451.88,1384.90 1474.71,1379.02 1497.54,1380.27 1520.38,1372.68 1543.21,1361.66 1566.04,1375.14 1588.87,1383.47 1611.70,1385.41 1634.53,1389.80 1657.37,1392.49 1680.20,1391.75 1703.03,1394.71 1725.86,1395.68 1748.69,1395.46 1771.53,1395.23 1794.36,1394.94 1817.19,1394.94 1840.02,1394.71" fill="none" stroke="#000000" stroke-width="4.44" stroke-linejoin="round" stroke-linecap="butt" stroke-dasharray="17.76 17.76"/>
<rect x="1143.65" y="836.00" width="753.45" height="590.00" fill="none" stroke="#333333" stroke-width="4.44"/>
</g>
<line x1="1337.72" x2="1337.72" y1="1426.00" y2="1437.46" stroke="#333333" stroke-width="4.44"/>
<line x1="1566.04" x2="1566.04" y1="1426.00" y2="1437.46" stroke="#333333" stroke-width="4.44"/>
<line x1="1794.36" x2="1794.36" y1="1426.00" y2="1437.46" stroke="#333333" stroke-width="4.44"/>
<line x1="1132.19" x2="1143.65" y1="1407.10" y2="1407.10" stroke="#333333" stroke-width="4.44"/>
<line x1="1132.19" x2="1143.65" y1="1264.40" y2="1264.40" stroke="#333333" stroke-width="4.44"/>
<line x1="1132.19" x2="1143.65" y1="1121.70" y2="1121.70" stroke="#333333" stroke-width="4.44"/>
<line x1="1132.19" x2="1143.65" y1="979.00" y2="979.00" stroke="#333333" stroke-width="4.44"/>
<line x1="1132.19" x2="1143.65" y1="836.30" y2="836.30" stroke="#333333" stroke-width="4.44"/>
<g transform="translate(1337.72 1473.10)" font-size="37.40" font-family="Liberation Sans, sans-serif" fill="#4D4D4D">
<text x="-45.48" y="0" textLength="20.99" lengthAdjust="spacingAndGlyphs">2</text>
<text x="-22.16" y="0" textLength="20.99" lengthAdjust="spacingAndGlyphs">0</text>
<text x="1.17" y="0" textLength="20.99" lengthAdjust="spacingAndGlyphs">0</text>
<text x="24.49" y="0" textLength="20.99" lengthAdjust="spacingAndGlyphs">0</text>
</g>
<g transform="translate(1566.04 1473.10)" font-size="37.40" font-family="Liberation Sans, sans-serif" fill="#4D4D4D">
<text x="-45.48" y="0" textLength="20.99" lengthAdjust="spacingAndGlyphs">2</text>
<text x="-22.16" y="0" textLength="20.99" lengthAdjust="spacingAndGlyphs">0</text>
<text x="1.17" y="0" textLength="20.99" lengthAdjust="spacingAndGlyphs">1</text>
<text x="24.49" y="0" textLength="20.99" lengthAdjust="spacingAndGlyphs">0</text>
</g>
<g transform="translate(1794.36 1473.10)" font-size="37.40" font-family="Liberation Sans, sans-serif" fill="#4D4D4D">
<text x="-45.48" y="0" textLength="20.99" lengthAdjust="spacingAndGlyphs">2</text>
<text x="-22.16" y="0" textLength="20.99" lengthAdjust="spacingAndGlyphs">0</text>
<text x="1.17" y="0" textLength="20.99" lengthAdjust="spacingAndGlyphs">2</text>
<text x="24.49" y="0" textLength="20.99" lengthAdjust="spacingAndGlyphs">0</text>
</g>
<g transform="translate(1122.50 1420.00)" font-size="37.40" font-family="Liberation Sans, sans-serif" fill="#4D4D4D">
<text x="-57.14" y="0" textLength="20.99" lengthAdjust="spacingAndGlyphs">0</text>
<text x="-34.63" y="0" textLength="10.96" lengthAdjust="spacingAndGlyphs">.</text>
<text x="-22.16" y="0" textLength="20.99" lengthAdjust="spacingAndGlyphs">0</text>
</g>
<g transform="translate(1122.50 1277.30)" font-size="37.40" font-family="Liberation Sans, sans-serif" fill="#4D4D4D">
<text x="-57.14" y="0" textLength="20.99" lengthAdjust="spacingAndGlyphs">2</text>
<text x="-34.63" y="0" textLength="10.96" lengthAdjust="spacingAndGlyphs">.</text>
<text x="-22.16" y="0" textLength="20.99" lengthAdjust="spacingAndGlyphs">5</text>
</g>
<g transform="translate(1122.50 1134.60)" font-size="37.40" font-family="Liberation Sans, sans-serif" fill="#4D4D4D">
<text x="-57.14" y="0" textLength="20.99" lengthAdjust="spacingAndGlyphs">5</text>
<text x="-34.63" y="0" textLength="10.96" lengthAdjust="spacingAndGlyphs">.</text>
<text x="-22.16" y="0" textLength="20.99" lengthAdjust="spacingAndGlyphs">0</text>
</g>
<g transform="translate(1122.50 991.90)" font-size="37.40" font-family="Liberation Sans, sans-serif" fill="#4D4D4D">
<text x="-57.14" y="0" textLength="20.99" lengthAdjust="spacingAndGlyphs">7</text>
<text x="-34.63" y="0" textLength="10.96" lengthAdjust="spacingAndGlyphs">.</text>
<text x="-22.16" y="0" textLength="20.99" lengthAdjust="spacingAndGlyphs">5</text>
</g>
<g transform="translate(1122.50 849.20)" font-size="37.40" font-family="Liberation Sans, sans-serif" fill="#4D4D4D">
<text x="-80.46" y="0" textLength="20.99" lengthAdjust="spacingAndGlyphs">1</text>
<text x="-57.14" y="0" textLength="20.99" lengthAdjust="spacingAndGlyphs">0</text>
<text x="-34.63" y="0" textLength="10.96" lengthAdjust="spacingAndGlyphs">.</text>
<text x="-22.16" y="0" textLength="20.99" lengthAdjust="spacingAndGlyphs">0</text>
</g>
<g transform="translate(1017.80 1131.00) rotate(-90)" font-size="47.43" font-family="Liberation Sans, sans-serif" fill="#000000">
<text x="-103.71" y="0" textLength="42.61" lengthAdjust="spacingAndGlyphs">W</text>
<text x="-59.28" y="0" textLength="14.52" lengthAdjust="spacingAndGlyphs">/</text>
<text x="-43.42" y="0" textLength="27.36" lengthAdjust="spacingAndGlyphs">S</text>
<text x="-0.05" y="0" textLength="17.71" lengthAdjust="spacingAndGlyphs">r</text>
<text x="19.06" y="0" textLength="26.41" lengthAdjust="spacingAndGlyphs">a</text>
<text x="46.85" y="0" textLength="16.89" lengthAdjust="spacingAndGlyphs">t</text>
<text x="64.66" y="0" textLength="11.98" lengthAdjust="spacingAndGlyphs">i</text>
<text x="77.86" y="0" textLength="26.37" lengthAdjust="spacingAndGlyphs">o</text>
</g>
<g transform="translate(1520.40 1528.30)" font-size="47.43" font-family="Liberation Sans, sans-serif" fill="#000000">
<text x="-47.72" y="0" textLength="26.32" lengthAdjust="spacingAndGlyphs">Y</text>
<text x="-25.71" y="0" textLength="26.49" lengthAdjust="spacingAndGlyphs">e</text>
<text x="2.47" y="0" textLength="26.41" lengthAdjust="spacingAndGlyphs">a</text>
<text x="30.29" y="0" textLength="17.71" lengthAdjust="spacingAndGlyphs">r</text>
</g>
</svg></body></html>
